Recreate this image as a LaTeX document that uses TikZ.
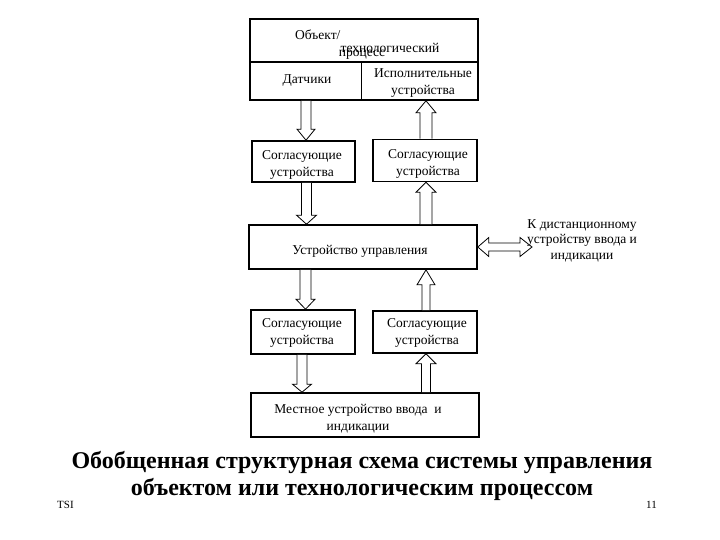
\documentclass[tikz,border=0pt]{standalone}
\usepackage{fontspec}
\setmainfont{Liberation Serif}
\usetikzlibrary{calc}
\tikzset{
  box/.style={draw, line width=1.6pt, rectangle, inner sep=0pt},
  lbl/.style={inner sep=0pt, align=center, font=\fontsize{13.5}{17}\selectfont},
  barrow/.style={draw, fill=white, line width=0.8pt, line join=miter},
}
% vertical block arrow: #1 start, #2 tip, #3 shaft half width, #4 head half width, #5 head length
\newcommand\vblockarrow[5]{%
  \draw[barrow] let \p1=#1, \p2=#2, \n1={sign(\y2-\y1)} in
    (\x1-#3,\y1) -- (\x1-#3,\y2-\n1*#5) -- (\x1-#4,\y2-\n1*#5) -- (\x1,\y2)
    -- (\x1+#4,\y2-\n1*#5) -- (\x1+#3,\y2-\n1*#5) -- (\x1+#3,\y1);}
\begin{document}
\begin{tikzpicture}[x=1pt,y=-1pt]
\useasboundingbox (0,0) rectangle (720,540);
% boxes (geometry)
\node[box, minimum width=228pt, minimum height=81pt] (obj) at (364,59.5) {};
\node[box, minimum width=103pt, minimum height=41pt] (l1) at (303.5,161.5) {};
\node[box, minimum width=104pt, minimum height=42pt] (r1) at (425,160.5) {};
\node[box, minimum width=228pt, minimum height=44pt] (main) at (363,247) {};
\node[box, minimum width=104pt, minimum height=44pt] (l2) at (303,332) {};
\node[box, minimum width=104pt, minimum height=42pt] (r2) at (425,332) {};
\node[box, minimum width=228pt, minimum height=44pt] (loc) at (365,415) {};
% dividers in object box
\draw[line width=1.6pt] (obj.west |- 0,62) -- (obj.east |- 0,62);
\draw[line width=0.8pt] (361,62) -- (361,0 |- obj.south);
% block arrows
\vblockarrow{(306,0 |- obj.south)}{(306,0 |- l1.north)}{5pt}{9pt}{11pt}
\vblockarrow{(306.5,0 |- l1.south)}{(306.5,0 |- main.north)}{5pt}{10pt}{9pt}
\vblockarrow{(426,0 |- r1.north)}{(426,0 |- obj.south)}{6pt}{10pt}{12pt}
\vblockarrow{(426,0 |- main.north)}{(426,0 |- r1.south)}{6pt}{10pt}{10pt}
\vblockarrow{(305.5,0 |- main.south)}{(305.5,0 |- l2.north)}{5.5pt}{9.5pt}{10pt}
\vblockarrow{(426,0 |- r2.north)}{(426,0 |- main.south)}{4pt}{9pt}{15pt}
\vblockarrow{(302,0 |- l2.south)}{(302,0 |- loc.north)}{5pt}{9.5pt}{8pt}
\vblockarrow{(426,0 |- loc.north)}{(426,0 |- r2.south)}{4.5pt}{10pt}{10pt}
% double arrow to remote device
\coordinate (rem) at (532,247);
\draw[barrow] let \p1=(main.east), \p2=(rem) in
  (\x1,\y1) -- (\x1+11pt,\y1+9.5pt) -- (\x1+11pt,\y1+4pt) -- (\x2-12pt,\y1+4pt)
  -- (\x2-12pt,\y1+9.5pt) -- (\x2,\y1) -- (\x2-12pt,\y1-9.5pt) -- (\x2-12pt,\y1-4pt)
  -- (\x1+11pt,\y1-4pt) -- (\x1+11pt,\y1-9.5pt) -- cycle;
% texts
\node[lbl, anchor=west] (t1) at (295,34.5) {Объект/};
\node[lbl] (t2) at (390,48) {технологический};
\node[lbl] (t3) at (362,55) {процесс};
\node[lbl] (sens) at (307,80.5) {Датчики};
\node[lbl] (act) at (423,83.5) {Исполнительные\\устройства};
\node[lbl] at (302,164.5) {Согласующие\\устройства};
\node[lbl] at (428,164) {Согласующие\\устройства};
\node[lbl] at (360,251) {Устройство управления};
\node[lbl] at (302,332.5) {Согласующие\\устройства};
\node[lbl] at (427,332.5) {Согласующие\\устройства};
\node[lbl] at (358,418.5) {Местное устройство ввода~~и\\индикации};
\node[inner sep=0pt, align=center, font=\fontsize{13.5}{15.5}\selectfont] (remt) at (582,240.5)
  {К дистанционному\\устройству ввода и\\индикации};
\node[inner sep=0pt, align=center, font=\fontsize{24}{27.5}\selectfont\bfseries] (title) at (362,476)
  {Обобщенная структурная схема системы управления\\объектом или технологическим процессом};
\node[inner sep=0pt, anchor=west, font=\fontsize{11}{13}\selectfont] at (57,505) {TSI};
\node[inner sep=0pt, anchor=east, font=\fontsize{11}{13}\selectfont] at (657,505) {11};
\end{tikzpicture}
\end{document}
